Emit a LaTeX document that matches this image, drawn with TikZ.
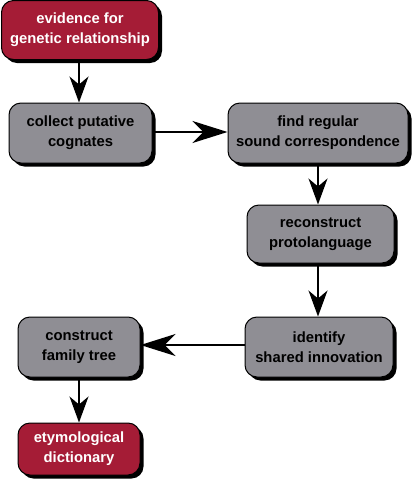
\documentclass[tikz,border=0pt]{standalone}
\usepackage{fontspec}
\setmainfont{Liberation Sans}
\usetikzlibrary{arrows.meta,shadows}
\definecolor{boxred}{HTML}{A51C36}
\definecolor{boxgray}{HTML}{8F8E94}
\begin{document}
\begin{tikzpicture}[x=1pt,y=-1pt,
  base/.style={draw=black, line width=1pt, rounded corners=12pt, align=center,
    font=\bfseries\fontsize{14.8}{20}\selectfont, inner sep=0pt,
    drop shadow={shadow xshift=3.5pt, shadow yshift=-3.5pt, fill=black, opacity=1}},
  redbox/.style={base, fill=boxred, text=white},
  graybox/.style={base, fill=boxgray, text=black},
  vconn/.style={line width=1.5pt, -{Stealth[length=26pt, width=19pt, inset=8pt]}},
  hconn/.style={line width=1.5pt, -{Stealth[length=35pt, width=22pt, inset=11pt]}}]
\useasboundingbox (0,0) rectangle (416,483);
\node[redbox, minimum width=157pt, minimum height=59pt] (ev) at (80,30) {evidence for\\genetic relationship};
\node[graybox, minimum width=143pt, minimum height=60pt] (col) at (80.5,133) {collect putative\\cognates};
\node[graybox, minimum width=180pt, minimum height=60pt] (find) at (318,133) {find regular\\sound correspondence};
\node[graybox, minimum width=147pt, minimum height=58pt] (rec) at (320.5,234) {reconstruct\\protolanguage};
\node[graybox, minimum width=148pt, minimum height=60pt] (idn) at (319,347) {identify\\shared innovation};
\node[graybox, minimum width=122pt, minimum height=60pt] (fam) at (79,347) {construct\\family tree};
\node[redbox, minimum width=122pt, minimum height=52pt] (ety) at (79,449) {etymological\\dictionary};
\draw[vconn] (ev.south -| 79,0) -- (col.north -| 79,0);
\draw[hconn] (col.east |- 0,132) -- (find.west |- 0,132);
\draw[vconn] (find.south -| 318,0) -- (rec.north -| 318,0);
\draw[vconn] (rec.south -| 318,0) -- (idn.north -| 318,0);
\draw[hconn] (idn.west |- 0,345) -- (fam.east |- 0,345);
\draw[vconn] (fam.south -| 79,0) -- (ety.north -| 79,0);
\end{tikzpicture}
\end{document}
